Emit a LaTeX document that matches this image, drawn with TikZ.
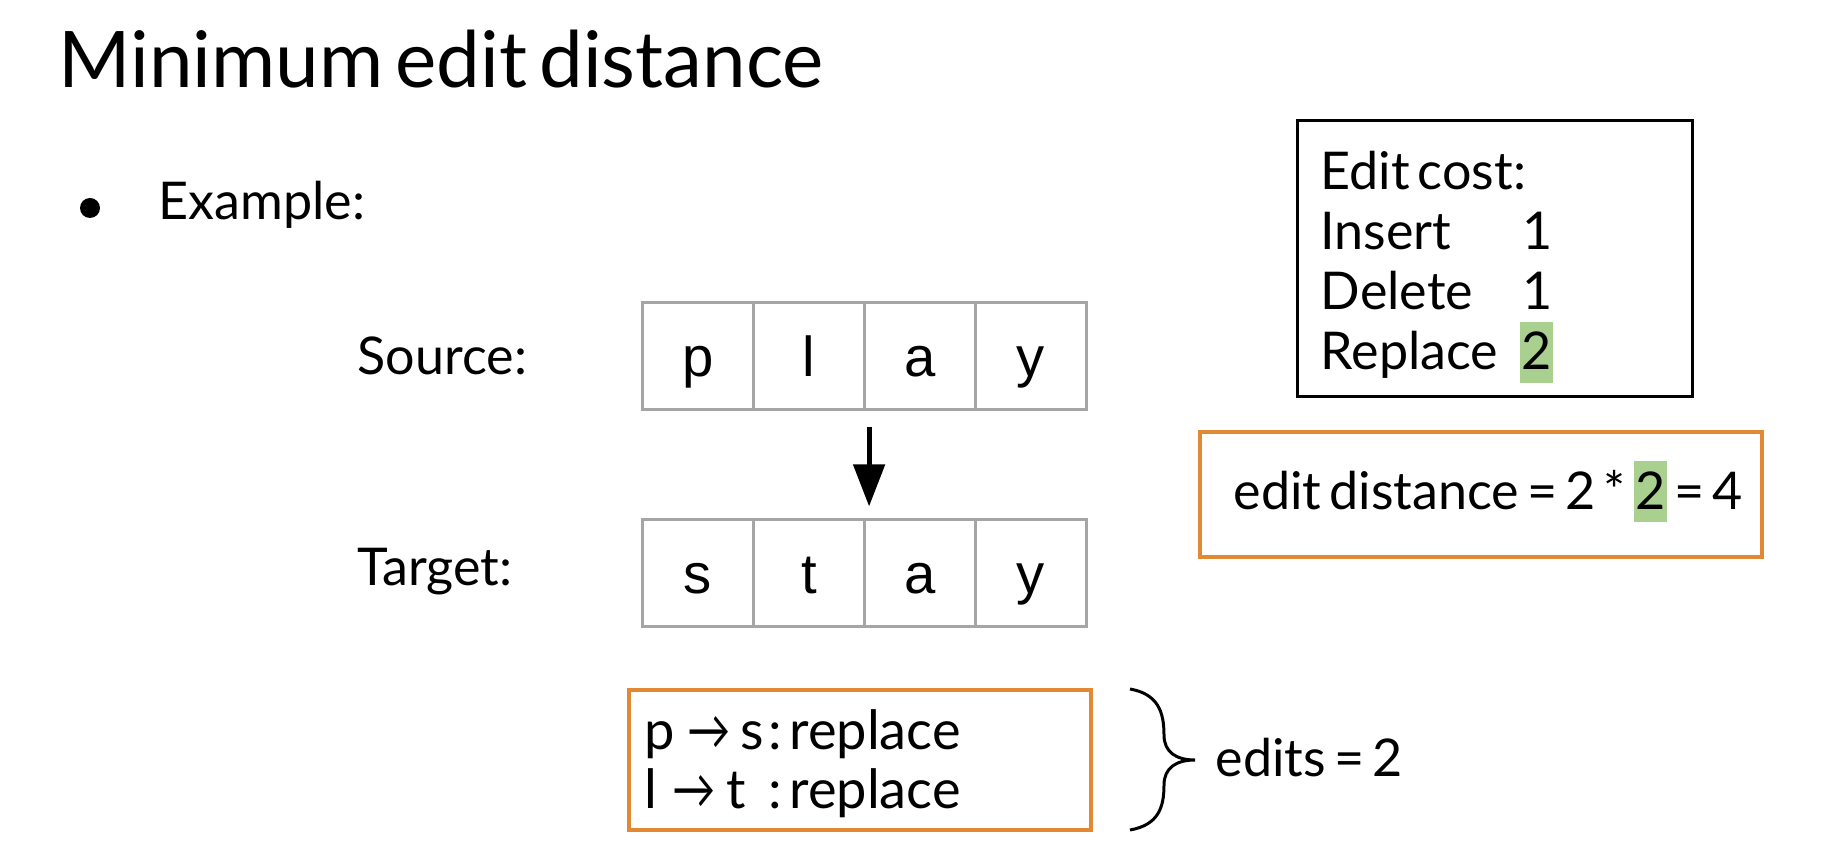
\documentclass[tikz,border=0pt]{standalone}
\usepackage{fontspec}
\setmainfont{Lato}[WordSpace=0.6]
\newfontfamily\arialfont{Liberation Sans}
\usetikzlibrary{arrows.meta}
\definecolor{boxorange}{RGB}{226,137,52}
\definecolor{hlgreen}{RGB}{169,208,142}
\definecolor{cellgrey}{RGB}{165,165,165}
\newcommand\hlmark[1]{{\setlength{\fboxsep}{0.015cm}\colorbox{hlgreen}{\rule[-0.11cm]{0pt}{0.57cm}#1}}}
\newcommand\putat[2]{\makebox[0pt][l]{\hspace*{#1}#2}}
\newcommand\shortarrow{\scalebox{0.8}[1]{→}}
\begin{document}
\begin{tikzpicture}[x=0.01cm,y=0.01cm,
  lbl/.style={anchor=base west,inner sep=0pt,font=\fontsize{14.8pt}{17.8pt}\selectfont},
  editlbl/.style={anchor=base west,inner sep=0pt,font=\fontsize{15.4pt}{18pt}\selectfont},
  cell/.style={draw=cellgrey,line width=0.6pt,minimum width=1.11cm,minimum height=1.07cm,
    inner sep=0pt,text height=0.5cm,text depth=0.1cm,font=\arialfont\fontsize{16pt}{18pt}\selectfont},
  orangebox/.style={draw=boxorange,line width=1.15pt,inner sep=0pt},
  blackbox/.style={draw=black,line width=0.85pt,inner sep=0pt}]
\useasboundingbox (0,0) rectangle (1830,-864);
% title and bullet
\node[anchor=base west,inner sep=0pt,font=\fontsize{22.2pt}{26pt}\selectfont] (title) at (58,-88) {Minimum edit distance};
\fill (90,-208) circle (10);
\node[lbl] (example) at (158,-220) {Example:};
% source / target
\node[lbl] (srclbl) at (357,-375) {Source:};
\node[lbl] (tgtlbl) at (357,-585) {Target:};
\node[cell] (s1) at (698,-356) {p};
\node[cell] (s2) at (809,-356) {l};
\node[cell] (s3) at (920,-356) {a};
\node[cell] (s4) at (1031,-356) {y};
\node[cell] (t1) at (698,-573) {s};
\node[cell] (t2) at (809,-573) {t};
\node[cell] (t3) at (920,-573) {a};
\node[cell] (t4) at (1031,-573) {y};
\draw[line width=1.4pt,-{Triangle[width=0.31cm,length=0.42cm]},shorten <=0.16cm,shorten >=0.12cm]
  ([xshift=0.035cm]s2.south east) -- ([xshift=0.035cm]t2.north east);
% edit cost box
\node[blackbox,minimum width=3.94cm,minimum height=2.75cm] (costbox) at (1495,-258.5) {};
\node[lbl] (c0) at (1320,-190) {Edit cost:};
\node[lbl] (c1) at (1320,-250) {Insert};
\node[lbl] (c2) at (1320,-310) {Delete};
\node[lbl] (c3) at (1320,-370) {Replace};
\node[lbl] (n1) at (1522,-250) {1};
\node[lbl] (n2) at (1522,-310) {1};
\node[lbl] (n3) at (1519.5,-370) {\hlmark{2}};
% edit distance box
\node[orangebox,minimum width=5.62cm,minimum height=1.25cm] (distbox) at (1481,-494.5) {};
\node[lbl] (dist) at (1233,-509) {edit distance = 2 * \hlmark{2} = 4};
% edits box
\node[orangebox,minimum width=4.62cm,minimum height=1.40cm] (editsbox) at (860,-760) {};
\node[editlbl] (e1) at (642,-749) {\putat{0cm}{p}\putat{0.43cm}{\shortarrow}\putat{0.96cm}{s}\putat{1.235cm}{:}\putat{1.45cm}{replace}};
\node[editlbl] (e2) at (642,-808) {\putat{0cm}{l}\putat{0.28cm}{\shortarrow}\putat{0.82cm}{t}\putat{1.235cm}{:}\putat{1.45cm}{replace}};
% brace
\coordinate (btop) at (1130,-689);
\coordinate (bbot) at (1130,-830);
\coordinate (btip) at (1195,-760);
\draw[line width=0.85pt] (btop) .. controls (1158,-694) and (1164,-712) .. (1164,-735)
  .. controls (1164,-752) and (1176,-760) .. (btip)
  .. controls (1176,-760) and (1164,-768) .. (1164,-785)
  .. controls (1164,-808) and (1158,-825) .. (bbot);
\node[lbl] (edits) at (1215,-776) {edits = 2};
\end{tikzpicture}
\end{document}
